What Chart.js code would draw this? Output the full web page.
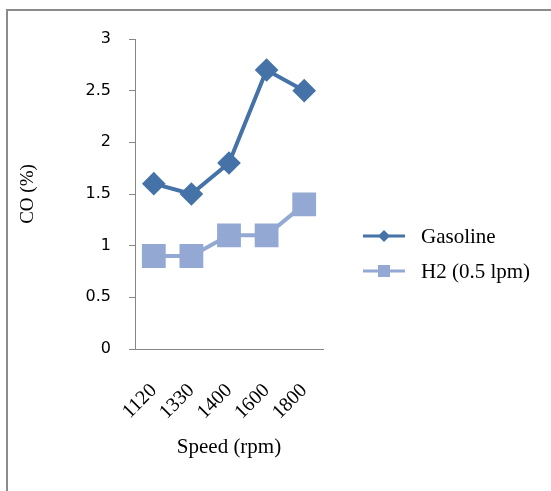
<!DOCTYPE html>
<html>
<head>
<meta charset="utf-8">
<script src="https://cdn.jsdelivr.net/npm/chart.js@4/dist/chart.umd.min.js"></script>
<style>
  html, body { margin: 0; padding: 0; background: #fff; overflow: hidden; }
  #wrap { position: relative; width: 551px; height: 491px; overflow: hidden; }
</style>
</head>
<body>
<div id="wrap">
  <canvas id="coChart"></canvas>
</div>
<script>
// data
const speeds = ['1120', '1330', '1400', '1600', '1800'];
const gasoline = [1.6, 1.5, 1.8, 2.7, 2.5];
const h2 = [0.9, 0.9, 1.1, 1.1, 1.4];
const seriesNames = ['Gasoline', 'H2 (0.5 lpm)'];

const serif = 'Liberation Serif, Times New Roman, serif';

// the grey frame of the original picture (only left and top edges are in view)
const frame = {
    id: 'frame',
    beforeDraw(chart) {
        const ctx = chart.ctx;
        ctx.save();
        ctx.strokeStyle = '#8c8c8c';
        ctx.lineWidth = 2;
        ctx.beginPath();
        ctx.moveTo(7, chart.height);
        ctx.lineTo(7, 10);
        ctx.lineTo(chart.width, 10);
        ctx.stroke();
        ctx.restore();
    }
};

// legend drawn like the excel one: a short line with the marker on it
const sideLegend = {
    id: 'sideLegend',
    afterDraw(chart) {
        const ctx = chart.ctx;
        const x0 = 363, x1 = 405, textX = 421;
        const rows = [236, 271];
        chart.data.datasets.forEach((ds, i) => {
            const y = rows[i];
            ctx.save();
            ctx.strokeStyle = ds.borderColor;
            ctx.lineWidth = 3;
            ctx.beginPath();
            ctx.moveTo(x0, y);
            ctx.lineTo(x1, y);
            ctx.stroke();
            ctx.fillStyle = ds.backgroundColor;
            const cx = (x0 + x1) / 2;
            ctx.beginPath();
            if (ds.pointStyle === 'rectRot') {
                ctx.moveTo(cx, y - 6); ctx.lineTo(cx + 6, y);
                ctx.lineTo(cx, y + 6); ctx.lineTo(cx - 6, y);
            } else {
                ctx.rect(cx - 6, y - 6, 12, 12);
            }
            ctx.closePath();
            ctx.fill();
            ctx.fillStyle = '#000';
            ctx.font = '21px ' + serif;
            ctx.textBaseline = 'middle';
            ctx.fillText(ds.label, textX, y + 1);
            ctx.restore();
        });
    }
};

new Chart(document.getElementById('coChart'), {
    type: 'line',
    data: {
        labels: speeds,
        datasets: [{
            label: seriesNames[0],
            data: gasoline,
            borderColor: '#4572a7',
            backgroundColor: '#4572a7',
            borderWidth: 4,
            pointStyle: 'rectRot',
            pointRadius: 9,
            pointHoverRadius: 9,
            tension: 0
        }, {
            label: seriesNames[1],
            data: h2,
            borderColor: '#93a8d2',
            backgroundColor: '#93a8d2',
            borderWidth: 4,
            pointStyle: 'rect',
            pointRadius: 14,
            pointHoverRadius: 14,
            tension: 0
        }]
    },
    options: {
        responsive: true,
        maintainAspectRatio: false,
        animation: false,
        layout: { padding: { left: 17, top: 39, right: 228, bottom: 20 } },
        plugins: { legend: { display: false }, tooltip: { enabled: false } },
        scales: {
            x: {
                offset: true,
                grid: { display: false, drawTicks: false },
                border: { display: true, color: '#868686', width: 1 },
                ticks: { color: '#000', font: { family: serif, size: 20 }, autoSkip: false,
                         minRotation: 45, maxRotation: 45, padding: 30 },
                title: { display: true, text: 'Speed (rpm)', color: '#000',
                         font: { family: serif, size: 21 }, padding: { top: 0, bottom: 11 } },
                afterFit(scale) { scale.height = 122; }
            },
            y: {
                min: 0,
                max: 3,
                grid: { drawOnChartArea: false, tickLength: 6, color: '#868686' },
                border: { display: true, color: '#868686', width: 1 },
                ticks: { stepSize: 0.5, color: '#000', padding: 18,
                         font: { family: 'DejaVu Sans, sans-serif', size: 16 },
                         callback: v => String(v) },
                title: { display: true, text: 'CO (%)', color: '#000',
                         font: { family: serif, size: 19 }, padding: { top: 0, bottom: 0 } },
                afterFit(scale) { scale.width = 118; }
            }
        }
    },
    plugins: [frame, sideLegend]
});
</script>
</body>
</html>
